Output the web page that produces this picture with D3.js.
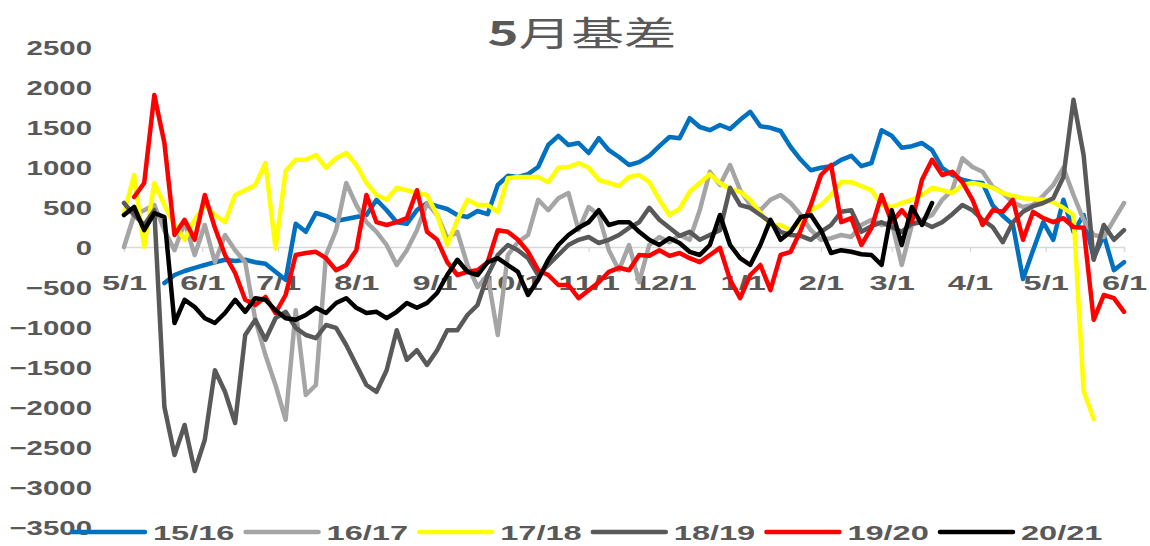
<!DOCTYPE html>
<html>
<head>
<meta charset="utf-8">
<script src="https://cdn.jsdelivr.net/npm/d3@7"></script>
<style>
  body { margin: 0; background: #fff; }
  text { fill: #595959; }
</style>
</head>
<body>
<div id="chart"></div>
<script>
(function() {
// values every 4 days starting 5/1
var s1516 = [null, null, null, null, -450, -350, -300, -260, -225, -190,
  -160, -175, -160, -190, -210, -310, -410, 290, 190, 425,
  390, 325, 350, 375, 400, 590, 460, 310, 290, 460,
  550, 510, 475, 400, 375, 450, 410, 775, 890, 875,
  910, 1000, 1275, 1390, 1275, 1300, 1175, 1360, 1210, 1125,
  1025, 1060, 1140, 1260, 1375, 1360, 1610, 1500, 1460, 1525,
  1475, 1590, 1690, 1510, 1490, 1450, 1250, 1090, 960, 990,
  1010, 1090, 1140, 1010, 1050, 1460, 1390, 1240, 1260, 1300,
  1210, 990, 900, 840, 810, 800, 520, 390, 280, -400,
  -40, 310, 90, 590, 190, 400, -140, 150, -290, -190];

var s1617 = [0, 400, 460, 525, 210, -40, 310, -100, 275, -190,
  150, -40, -190, -910, -1350, -1725, -2160, -790, -1850, -1725,
  -100, 210, 800, 525, 310, 190, 25, -225, -40, 210,
  550, 400, 110, 190, -225, -500, -350, -1100, -100, 60,
  150, 590, 460, 610, 675, 210, 500, 400, -40, -290,
  25, -440, 25, 125, 60, 150, 90, 460, 940, 775,
  1025, 710, 525, 460, 590, 650, 550, 400, 210, 90,
  110, 150, 125, 275, 340, 275, 310, -225, 275, 340,
  400, 590, 710, 1110, 1000, 940, 750, 675, 560, 500,
  525, 640, 775, 990, 650, 340, 150, 125, 340, 550];

var s1718 = [425, 900, 0, 800, 525, 275, 90, 340, 525, 400,
  310, 650, 710, 775, 1050, -20, 950, 1090, 1090, 1150,
  990, 1110, 1175, 1025, 800, 650, 590, 740, 710, 675,
  650, 400, 25, 340, 590, 525, 525, 440, 860, 875,
  875, 875, 810, 990, 1000, 1050, 990, 840, 800, 760,
  875, 900, 810, 590, 400, 475, 690, 800, 910, 800,
  725, 690, 590, 425, 275, 275, 210, 310, 460, 525,
  650, 810, 810, 760, 710, 525, 500, 550, 590, 650,
  740, 710, 675, 775, 800, 775, 740, 675, 640, 610,
  600, 590, 560, 490, 400, -1800, -2150, null, null, null];

var s1819 = [550, 400, 275, 460, -2000, -2600, -2225, -2800, -2410, -1540,
  -1810, -2200, -1100, -910, -1160, -890, -810, -1010, -1100, -1140,
  -975, -1010, -1225, -1475, -1725, -1810, -1540, -1040, -1410, -1290,
  -1475, -1290, -1040, -1040, -850, -725, -350, -100, 25, -40,
  -140, -350, -225, -100, 25, 90, 125, 50, 90, 150,
  240, 310, 490, 340, 240, 140, 190, 90, 150, 210,
  740, 525, 490, 400, 310, 190, 150, 140, 90, 190,
  275, 440, 460, 190, 260, 310, 250, 190, 290, 310,
  250, 310, 410, 525, 460, 340, 250, 60, 310, 440,
  510, 550, 610, 875, 1840, 1150, -160, 275, 90, 210];

var s1920 = [null, 625, 800, 1900, 1300, 150, 340, 90, 650, 240,
  -100, -325, -660, -725, -625, -825, -600, -100, -75, -60,
  -140, -290, -225, -40, 650, 310, 275, 310, 360, 710,
  190, 90, -190, -350, -310, -290, -190, 210, 190, 90,
  -60, -290, -350, -475, -475, -640, -540, -440, -310, -260,
  -290, -100, -110, -40, -110, -75, -140, -190, -100, -10,
  -410, -640, -350, -225, -540, -100, -60, 210, 525, 900,
  1025, 310, 360, 25, 240, 650, 310, 460, 310, 840,
  1090, 900, 940, 810, 590, 275, 460, 440, 590, 90,
  440, 360, 310, 360, 250, 240, -910, -600, -640, -810];

var s2021 = [400, 500, 210, 425, 375, -950, -660, -750, -890, -950,
  -825, -660, -810, -640, -660, -790, -890, -910, -850, -760,
  -825, -700, -640, -760, -825, -810, -890, -810, -700, -760,
  -700, -575, -350, -160, -310, -350, -190, -140, -225, -310,
  -600, -410, -160, 25, 150, 240, 310, 460, 275, 310,
  310, 190, 90, 25, 110, 50, -60, -100, 25, 400,
  25, -140, -225, 25, 340, 90, 190, 375, 400, 210,
  -75, -40, -60, -90, -100, -225, 460, 25, 500, 275,
  550, null, null, null, null, null, null, null, null, null,
  null, null, null, null, null, null, null, null, null, null];

var names = ["15/16", "16/17", "17/18", "18/19", "19/20", "20/21"];
var colors = ["#0070C0", "#A5A5A5", "#FFFF00", "#595959", "#FF0000", "#000000"];
var values = [s1516, s1617, s1718, s1819, s1920, s2021];
var yTicks = d3.range(-3500, 2501, 500);

var width = 1150,
  height = 546;

var start = new Date(2020, 4, 1),
  end = new Date(2021, 5, 1);

var svg = d3.select("#chart")
  .append("svg")
  .attr("width", width)
  .attr("height", height)
  .style("font-family", "'Liberation Sans', Arial, sans-serif");

var x = d3.scaleTime().domain([start, end]).range([124, 1124]);
var y = d3.scaleLinear().domain([-3500, 2500]).range([527, 47]);

// title
svg.append("g")
  .attr("transform", "translate(582,46)")
  .append("text")
  .attr("text-anchor", "middle")
  .attr("transform", "scale(1.55,1)")
  .style("font-family", "'Noto Sans CJK SC', sans-serif")
  .style("font-size", "34px")
  .call(function(t) {
    t.append("tspan").style("font-weight", "bold").text("5");
    t.append("tspan").text("月基差");
  });

// y axis
var yAxis = svg.append("g")
  .attr("transform", "translate(92,0)")
  .call(d3.axisLeft(y).tickValues(yTicks).tickFormat(d3.format("d")).tickSize(0).tickPadding(0));
yAxis.select(".domain").remove();
yAxis.selectAll("text")
  .attr("x", 0)
  .attr("dy", "0.36em")
  .attr("transform", "scale(1.4,1)")
  .style("font-size", "21px")
  .style("font-weight", "bold")
  .style("font-family", "'Liberation Sans', Arial, sans-serif")
  .style("fill", "#595959");

// x axis through zero
var months = d3.timeMonth.range(start, d3.timeDay.offset(end, 1));
var xAxis = svg.append("g")
  .attr("transform", "translate(0," + y(0) + ")")
  .call(d3.axisBottom(x).tickValues(months).tickFormat(d3.timeFormat("%-m/%-d")).tickSize(5));
xAxis.select(".domain")
  .attr("stroke", "#D9D9D9")
  .attr("stroke-width", 1.3);
xAxis.selectAll("line").attr("stroke", "#D9D9D9").attr("stroke-width", 1.3);
xAxis.selectAll("text")
  .attr("y", 43)
  .attr("dy", 0)
  .attr("transform", "scale(1.55,1)")
  .style("font-size", "21px")
  .style("font-weight", "bold")
  .style("font-family", "'Liberation Sans', Arial, sans-serif")
  .style("fill", "#595959");

var line = d3.line()
  .defined(function(d) { return d != null; })
  .x(function(d, i) { return x(d3.timeDay.offset(start, i * 4)); })
  .y(function(d) { return y(d); });

svg.selectAll(".series")
  .data(values)
  .enter().append("path")
  .attr("class", "series")
  .attr("fill", "none")
  .attr("stroke", function(d, i) { return colors[i]; })
  .attr("stroke-width", 4.5)
  .attr("stroke-linejoin", "round")
  .attr("stroke-linecap", "round")
  .attr("d", line);

// legend
var legend = svg.selectAll(".legend")
  .data(names)
  .enter().append("g")
  .attr("class", "legend")
  .attr("transform", function(d, i) { return "translate(" + (72 + i * 173.6) + ",532)"; });

legend.append("line")
  .attr("x1", 0)
  .attr("x2", 73)
  .attr("stroke", function(d, i) { return colors[i]; })
  .attr("stroke-width", 4.5)
  .attr("stroke-linecap", "round");

legend.append("text")
  .attr("x", 0)
  .attr("y", 8)
  .attr("transform", "translate(81,0) scale(1.55,1)")
  .style("font-size", "21px")
  .style("font-weight", "bold")
  .text(function(d) { return d; });
})();
</script>
</body>
</html>
